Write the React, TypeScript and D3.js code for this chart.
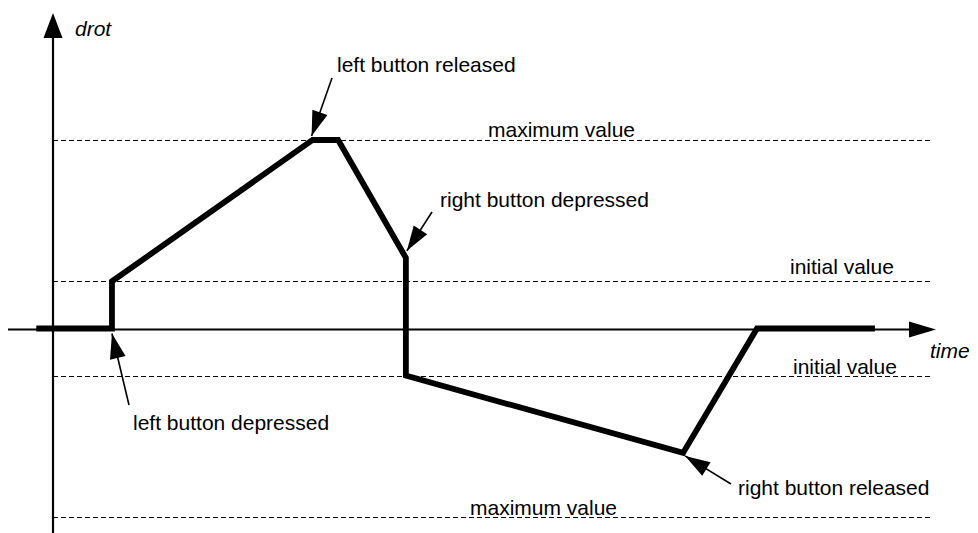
import React from "react";
import * as d3 from "d3";

// time (arbitrary units) and drot value (units of "initial value")
const times = [-1.9, 6.7, 6.7, 29.5, 32.4, 40.1, 40.1, 71.6, 80.0, 93.4];
const values = [0, 0, 1, 4, 4, 1.5, -1, -2.64, 0, 0];

const refValues = [4, 1, -1, -4];
const refLabels = ["maximum value", "initial value", "initial value", "maximum value"];
const refLabelX = [488, 790, 793, 470];
const refLabelDy = [-3, -7, -2, -2];

const annotations = [
  { label: "left button released", at: 3, tip: [-1, -4], tail: [332, 78], text: [337, 72] },
  { label: "right button depressed", at: 5, tip: [1, -7], tail: [432, 212], text: [440, 207] },
  { label: "left button depressed", at: 1, tip: [0, 5], tail: [129, 405], text: [133, 430] },
  { label: "right button released", at: 7, tip: [2, 3], tail: [731, 484], text: [738, 495] },
];

const W = 978;
const H = 533;
const FONT = "'Liberation Sans', Arial, Helvetica, sans-serif";

const x = d3.scaleLinear().domain([0, 100]).range([53, 933]);
const y = d3.scaleLinear().domain([-4, 4]).range([517, 140]);

const arrowHead = (tx: number, ty: number, fx: number, fy: number, len: number, half: number) => {
  const a = Math.atan2(ty - fy, tx - fx);
  const bx = tx - len * Math.cos(a);
  const by = ty - len * Math.sin(a);
  const px = -Math.sin(a) * half;
  const py = Math.cos(a) * half;
  return `M${tx},${ty}L${bx + px},${by + py}L${bx - px},${by - py}Z`;
};

export default function App() {
  const pts = times.map((t, i) => [x(t), y(values[i])] as [number, number]);
  const line = d3.line<[number, number]>()(pts) || "";
  const x0 = x(0);
  const yZero = y(0);

  return (
    <div>
      <style>{"body{margin:0}"}</style>
      <svg width={W} height={H} style={{ display: "block", background: "#fff" }}>
        {/* reference lines */}
        {refValues.map((v, i) => (
          <g key={i}>
            <line
              x1={x0}
              x2={930}
              y1={Math.round(y(v)) + 0.5}
              y2={Math.round(y(v)) + 0.5}
              stroke="#000"
              strokeWidth={1}
              strokeDasharray="5,3"
              shapeRendering="crispEdges"
            />
            <text x={refLabelX[i]} y={y(v) + refLabelDy[i]} fontFamily={FONT} fontSize={21} fill="#000">
              {refLabels[i]}
            </text>
          </g>
        ))}

        {/* axes */}
        <line x1={x0} x2={x0} y1={H} y2={36} stroke="#000" strokeWidth={2.2} />
        <path d={`M${x0},13L${x0 - 9.5},38L${x0 + 9.5},38Z`} fill="#000" />
        <text x={75} y={36} fontFamily={FONT} fontSize={21} fontStyle="italic">drot</text>

        <line x1={8} x2={912} y1={yZero + 1} y2={yZero + 1} stroke="#000" strokeWidth={2} />
        <path d={`M936,${yZero + 1}L909,${yZero - 7}L909,${yZero + 9}Z`} fill="#000" />
        <text x={930} y={358} fontFamily={FONT} fontSize={21} fontStyle="italic">time</text>

        {/* drot curve */}
        <path d={line} fill="none" stroke="#000" strokeWidth={5.8} strokeLinejoin="miter" />

        {/* annotations */}
        {annotations.map((a, i) => {
          const tx = pts[a.at][0] + a.tip[0];
          const ty = pts[a.at][1] + a.tip[1];
          const [fx, fy] = a.tail;
          return (
            <g key={i}>
              <line x1={fx} y1={fy} x2={tx} y2={ty} stroke="#000" strokeWidth={1.6} />
              <path d={arrowHead(tx, ty, fx, fy, 25, 8)} fill="#000" />
              <text x={a.text[0]} y={a.text[1]} fontFamily={FONT} fontSize={21} fill="#000">
                {a.label}
              </text>
            </g>
          );
        })}
      </svg>
    </div>
  );
}
